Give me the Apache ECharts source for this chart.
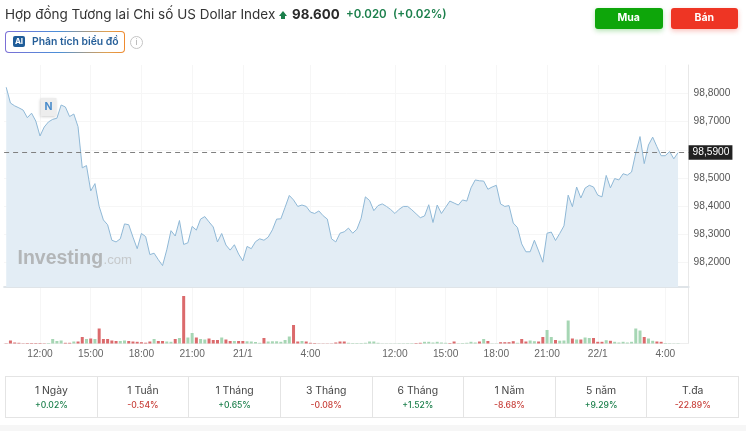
<!DOCTYPE html>
<html lang="vi">
<head>
<meta charset="UTF-8">
<title>US Dollar Index</title>
<script src="https://cdn.jsdelivr.net/npm/echarts@6/dist/echarts.min.js"></script>
<style>
    html, body { margin: 0; padding: 0; width: 746px; height: 431px; overflow: hidden; background: #fff; font-family: Inter, "Noto Sans", sans-serif; }
    #chart { position: absolute; left: 0; top: 0; width: 746px; height: 431px; }
    .t { position: absolute; white-space: nowrap; line-height: 1; }
    .up { color: #1b7f4b; }
    .down { color: #c8403a; }
    #arrow { position: absolute; left: 279px; top: 11px; width: 0; height: 0; border-left: 4px solid transparent; border-right: 4px solid transparent; border-bottom: 5px solid #1b7f4b; }
    #arrow:after { content: ""; position: absolute; left: -2px; top: 5px; width: 4px; height: 3px; background: #1b7f4b; }
    .btn { position: absolute; top: 8px; width: 67.5px; height: 20.5px; line-height: 20.5px; border-radius: 3px; color: #fff; font-size: 10.5px; font-weight: 700; text-align: center; }
    #ai { position: absolute; left: 5px; top: 31px; width: 119.5px; height: 22px; box-sizing: border-box; border: 1px solid transparent; border-radius: 4px; background: linear-gradient(#fff, #fff) padding-box, linear-gradient(90deg, #7b6fd6, #4a8fd8 45%, #e0a050 85%, #ef8a2e) border-box; }
    #aiicon { position: absolute; left: 13px; top: 36px; width: 12px; height: 11px; line-height: 11px; background: #1f5c99; border-radius: 2px; color: #fff; font-size: 8px; font-weight: 700; text-align: center; }
    #info { position: absolute; left: 130px; top: 36px; width: 11px; height: 11px; line-height: 11px; border: 1px solid #c4c4c4; border-radius: 50%; color: #aaa; font-size: 8.5px; text-align: center; }
    #tabs { position: absolute; left: 5px; top: 376px; width: 734px; height: 42px; box-sizing: border-box; border: 1px solid #e4e4e4; display: flex; }
    #tabs div { flex: 1; border-left: 1px solid #e4e4e4; text-align: center; }
    #tabs div:first-child { border-left: 0; }
    #tabs b { display: block; margin-top: 7px; font-weight: 400; font-size: 10.4px; line-height: 13px; color: #444; }
    #tabs span { display: block; margin-top: 2px; font-size: 8.6px; line-height: 12px; font-weight: 500; }
    #foot { position: absolute; left: 0; top: 425px; width: 746px; height: 6px; background: #f6f6f6; }
</style>
</head>
<body>
<div id="chart"></div>

<div class="t" style="left:5px;top:8px;font-size:13.5px;color:#333">Hợp đồng Tương lai Chi số US Dollar Index</div>
<div id="arrow"></div>
<div class="t" style="left:292px;top:8px;font-size:13.3px;font-weight:700;color:#2b2b2b">98.600</div>
<div class="t up" style="left:346px;top:9px;font-size:11.5px;font-weight:600">+0.020</div>
<div class="t up" style="left:393px;top:9px;font-size:11.6px;font-weight:600">(+0.02%)</div>
<div class="btn" style="left:595px;background:#0ea60a;box-shadow:0 2px 5px rgba(14,166,10,.3)">Mua</div>
<div class="btn" style="left:670.5px;background:#ee3524;box-shadow:0 2px 5px rgba(238,53,36,.3)">Bán</div>

<div id="ai"></div>
<div id="aiicon">AI</div>
<div class="t" style="left:32px;top:36.5px;font-size:10.4px;font-weight:600;color:#265f99">Phân tích biểu đồ</div>
<div id="info">i</div>

<div id="tabs"></div>
<div id="foot"></div>

<script>
    // one point every 15 min, the flat part 4:00 -> 12:00 is compressed as on the site
    const tickIndex = [8, 20, 32, 44, 56, 72, 92, 104, 116, 128, 140, 156];
    const tickLabels = ["12:00", "15:00", "18:00", "21:00", "21/1", "4:00", "12:00", "15:00", "18:00", "21:00", "22/1", "4:00"];
    const categoryCount = 162;

    const prices = [
        98.822, 98.766, 98.756, 98.749, 98.741, 98.714, 98.730, 98.702, 98.649, 98.681, 98.699, 98.708, 98.712, 98.759, 98.752, 98.718,
        98.727, 98.682, 98.536, 98.544, 98.454, 98.480, 98.399, 98.351, 98.334, 98.279, 98.273, 98.284, 98.337, 98.334, 98.290, 98.249,
        98.303, 98.292, 98.228, 98.233, 98.210, 98.189, 98.245, 98.313, 98.294, 98.349, 98.264, 98.270, 98.328, 98.315, 98.354, 98.363,
        98.344, 98.326, 98.273, 98.303, 98.262, 98.244, 98.263, 98.230, 98.206, 98.257, 98.249, 98.274, 98.284, 98.279, 98.290, 98.316,
        98.354, 98.355, 98.396, 98.438, 98.422, 98.399, 98.404, 98.399, 98.379, 98.374, 98.383, 98.366, 98.354, 98.284, 98.273, 98.304,
        98.309, 98.322, 98.304, 98.318, 98.357, 98.433, 98.420, 98.384, 98.402, 98.408, 98.399, 98.388, 98.374, 98.389, 98.399, 98.399,
        98.387, 98.373, 98.359, 98.365, 98.405, 98.342, 98.404, 98.374, 98.396, 98.418, 98.411, 98.404, 98.422, 98.418, 98.465, 98.493,
        98.490, 98.489, 98.460, 98.468, 98.474, 98.408, 98.399, 98.402, 98.340, 98.324, 98.266, 98.238, 98.238, 98.279, 98.241, 98.201,
        98.304, 98.308, 98.278, 98.303, 98.330, 98.439, 98.398, 98.468, 98.429, 98.464, 98.474, 98.468, 98.439, 98.433, 98.509, 98.465,
        98.498, 98.493, 98.515, 98.510, 98.521, 98.589, 98.647, 98.551, 98.617, 98.645, 98.611, 98.579, 98.579, 98.594, 98.568, 98.590
    ];

    const volumes = [
        0.3, 3, 1, 0.7, 0.3, 0.5, 0.5, 0.5, 0.5, 0.3, 0.5, 4.5, 2.5, 3, 0.7, 0.7,
        2, 2, 6.5, 4.5, 5, 4.5, 15, 4.5, 4.5, 3, 2.5, 2.5, 3, 2.5, 2, 1.7,
        1.3, 0.8, 2, 4.5, 2.5, 2.5, 2, 1.7, 4.5, 5.5, 47.5, 6, 10.5, 6, 4.5, 4,
        5, 3.5, 3.5, 6, 4, 2.5, 2.5, 2.5, 2.5, 2.2, 2, 1.5, 0.7, 5.5, 2, 2.2,
        2.2, 1.7, 3.5, 7, 18.5, 2, 2.5, 2, 0.7, 0.5, 0.2, 0.2, 0.2, 0.2, 1, 2,
        2, 0.7, 0.5, 0.5, 0.5, 0.7, 2, 2, 0.7, 0.2, 0.2, 0.2, 0.2, 0.3, 0.3, 0.4,
        0.4, 0.5, 0.7, 1.7, 1.7, 1, 1.7, 1, 0.7, 0.5, 2, 0.3, 0.5, 0.7, 1.7, 1,
        2, 4.5, 2.5, 0.2, 0.2, 1.3, 1.3, 1.3, 2.3, 0.7, 4.5, 2, 3, 2.3, 2, 6.5,
        13.5, 6.5, 3.5, 2.8, 3, 23, 5, 4, 4, 6, 5.5, 5.5, 1.7, 1.7, 3.3, 2.7,
        1.7, 1, 1.7, 1, 1.7, 15, 13, 6.5, 5, 2.7, 2, 1.7, 0.5, 0.3, 0.2, 0.3
    ];

    // 1 = green bar, 0 = red bar
    const volumeUp = [
        0, 0, 0, 0, 0, 0, 0, 0, 0, 0, 1, 1, 1, 1, 0, 0,
        1, 0, 0, 1, 0, 1, 0, 0, 0, 0, 0, 1, 1, 0, 0, 0,
        0, 0, 0, 1, 0, 0, 1, 1, 0, 1, 0, 1, 1, 0, 1, 1,
        0, 0, 0, 1, 0, 0, 1, 0, 0, 1, 1, 1, 1, 0, 1, 1,
        1, 1, 1, 1, 0, 0, 1, 0, 0, 0, 0, 0, 0, 0, 0, 0,
        0, 1, 1, 1, 1, 1, 1, 1, 1, 1, 1, 1, 1, 1, 1, 1,
        1, 0, 0, 1, 1, 1, 1, 1, 1, 0, 0, 1, 1, 1, 1, 1,
        0, 1, 0, 1, 1, 0, 0, 0, 0, 1, 0, 0, 1, 1, 0, 0,
        1, 1, 0, 1, 1, 1, 0, 1, 0, 1, 1, 0, 0, 0, 1, 0,
        1, 1, 1, 1, 1, 1, 1, 0, 1, 1, 0, 0, 1, 1, 1, 1
    ];

    const priceTicks = [98.2, 98.3, 98.4, 98.5, 98.6, 98.7, 98.8];
    const priceLabels = [98.2, 98.3, 98.4, 98.5, 98.7, 98.8];
    const lastPrice = 98.59;

    const periodNames = ["1 Ngày", "1 Tuần", "1 Tháng", "3 Tháng", "6 Tháng", "1 Năm", "5 năm", "T.đa"];
    const periodChanges = ["+0.02%", "-0.54%", "+0.65%", "-0.08%", "+1.52%", "-8.68%", "+9.29%", "-22.89%"];

    document.getElementById("tabs").innerHTML = periodNames.map(function (name, i) {
        const cls = periodChanges[i][0] === "+" ? "up" : "down";
        return "<div><b>" + name + "</b><span class='" + cls + "'>" + periodChanges[i] + "</span></div>";
    }).join("");

    const categories = [];
    for (let i = 0; i < categoryCount; i++) {
        const k = tickIndex.indexOf(i);
        categories.push(k >= 0 ? tickLabels[k] : "");
    }
    const isTick = function (i, value) { return value !== ""; };
    const gridColor = "#f6f6f6";
    const fmt = function (v) { return v.toFixed(4).replace(".", ","); };
    const axisFont = "'Liberation Sans', Arial";

    const myChart = echarts.init(document.getElementById("chart"));
    myChart.setOption({
        animation: false,
        grid: [
            { left: 4.1, right: 57.4, top: 65, height: 222 },
            { left: 4.1, right: 57.4, top: 288, height: 55.5 }
        ],
        xAxis: [
            {
                type: "category", gridIndex: 0, data: categories, boundaryGap: true,
                axisLine: { show: true, onZero: false, lineStyle: { color: "#dfe4e8", width: 2 } },
                axisTick: { show: false }, axisLabel: { show: false },
                splitLine: { show: true, interval: isTick, alignWithLabel: true, lineStyle: { color: gridColor } }
            },
            {
                type: "category", gridIndex: 1, data: categories, boundaryGap: true,
                axisLine: { show: true, onZero: false, lineStyle: { color: "#eeeeee" } },
                axisTick: { show: false },
                axisLabel: { interval: isTick, color: "#666", fontSize: 10.2, fontFamily: axisFont, margin: 6 },
                splitLine: { show: true, interval: isTick, alignWithLabel: true, lineStyle: { color: gridColor } }
            }
        ],
        yAxis: [
            {
                type: "value", gridIndex: 0, position: "right", min: 98.113, max: 98.901, scale: true,
                axisLine: { show: true, lineStyle: { color: "#e8e8e8" } },
                axisTick: { show: false, customValues: priceTicks },
                axisLabel: { customValues: priceLabels, formatter: fmt, color: "#555", fontSize: 10.2, fontFamily: axisFont, margin: 5 },
                splitLine: { show: true, lineStyle: { color: gridColor } }
            },
            {
                type: "value", gridIndex: 1, position: "right", min: 0, max: 55.5,
                axisLine: { show: true, lineStyle: { color: "#e8e8e8" } },
                axisTick: { show: false }, axisLabel: { show: false }, splitLine: { show: false }
            }
        ],
        graphic: [
            {
                type: "text", left: 17.5, top: 249, z: 10,
                style: { text: "Investing", font: "bold 19.5px 'Liberation Sans', Arial", fill: "#b3b6b8" }
            },
            {
                type: "text", left: 103.5, top: 254, z: 10,
                style: { text: ".com", font: "13.2px 'Liberation Sans', Arial", fill: "#c6c9cb" }
            }
        ],
        series: [
            {
                type: "line", xAxisIndex: 0, yAxisIndex: 0, data: prices,
                symbol: "none", smooth: false,
                lineStyle: { color: "#8fb8d6", width: 1 },
                areaStyle: { color: "#e3edf5", opacity: 1 },
                markLine: {
                    silent: true, symbol: "none", animation: false,
                    lineStyle: { color: "#808080", type: [5, 4], width: 1 },
                    data: [{ yAxis: lastPrice }],
                    label: {
                        position: "end", distance: 0, formatter: fmt(lastPrice),
                        color: "#fff", backgroundColor: "#222", fontSize: 10.2, fontFamily: axisFont,
                        padding: [2.5, 3, 2, 4]
                    }
                },
                markPoint: {
                    silent: true, animation: false,
                    symbol: "rect", symbolSize: [16, 18],
                    itemStyle: { color: "#ededed", shadowColor: "rgba(0,0,0,.25)", shadowBlur: 3, shadowOffsetY: 1 },
                    label: { formatter: "N", color: "#4a8ccb", fontSize: 10.5, fontWeight: "bold", fontFamily: "Inter" },
                    data: [{ coord: [10, 98.752] }]
                }
            },
            {
                type: "bar", xAxisIndex: 1, yAxisIndex: 1, data: volumes, barWidth: 3,
                itemStyle: {
                    color: function (p) { return volumeUp[p.dataIndex] ? "#a6d6b4" : "#db6a6c"; }
                }
            }
        ]
    });
</script>
</body>
</html>
